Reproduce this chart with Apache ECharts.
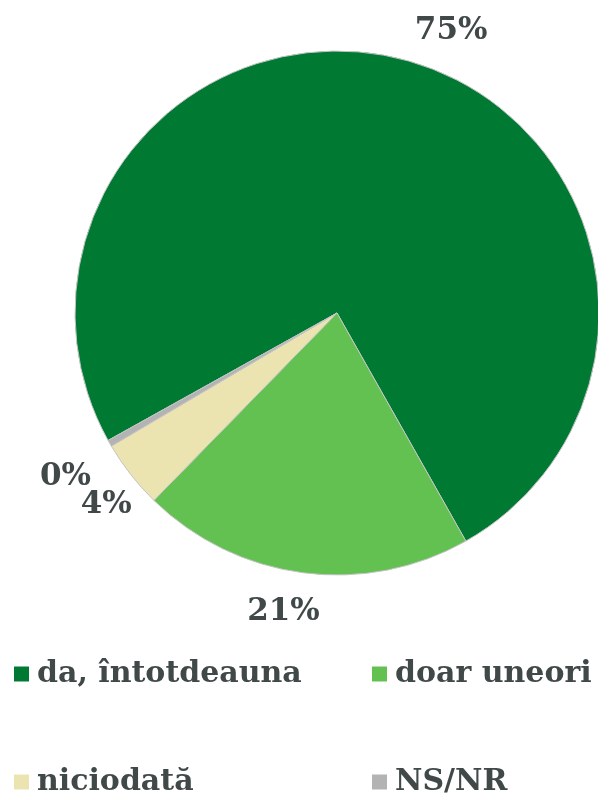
<!DOCTYPE html>
<html>
<head>
<meta charset="utf-8">
<script src="https://cdn.jsdelivr.net/npm/echarts@6/dist/echarts.min.js"></script>
<style>
html,body{margin:0;padding:0;background:#fff;}
#chart{width:598px;height:796px;}
</style>
</head>
<body>
<div id="chart"></div>
<script>
const categories = ['da, întotdeauna', 'doar uneori', 'niciodată', 'NS/NR'];
const values = [74.9, 20.5, 4.2, 0.4];
const labelTexts = ['75%', '21%', '4%', '0%'];
const colors = ['#007A33', '#63C152', '#EBE4B1', '#B3B3B3'];

const textColor = '#404848';
const fontFam = '"DejaVu Serif", "Liberation Serif", serif';

const chart = echarts.init(document.getElementById('chart'));

const legendPos = [
  {left: 9, top: 654},
  {left: 367, top: 654},
  {left: 9, top: 762},
  {left: 367, top: 762}
];
// small nudges of the outside labels (style tweak, px)
const labelNudge = [[-3, -13], [24, 21], [20, 19], [2, 25]];

const option = {
  animation: false,
  color: colors,
  legend: categories.map((c, i) => ({
    data: [c],
    left: legendPos[i].left,
    top: legendPos[i].top,
    icon: 'rect',
    itemWidth: 15,
    itemHeight: 15,
    itemStyle: {borderWidth: 0},
    textStyle: {fontFamily: fontFam, fontWeight: 'bold', fontSize: 30, color: textColor, padding: [0, 0, 0, 3]}
  })),
  series: [{
    type: 'pie',
    center: [337, 313],
    radius: 262,
    startAngle: 209.1,
    clockwise: true,
    avoidLabelOverlap: false,
    itemStyle: {borderColor: '#c4c4c4', borderWidth: 1},
    label: {
      show: true,
      position: 'outside',
      formatter: p => labelTexts[p.dataIndex],
      fontFamily: fontFam,
      fontWeight: 'bold',
      fontSize: 31,
      color: textColor
    },
    labelLine: {show: false, length: 18, length2: 0},
    labelLayout: p => ({dx: labelNudge[p.dataIndex][0], dy: labelNudge[p.dataIndex][1]}),
    emphasis: {disabled: true},
    data: categories.map((c, i) => ({name: c, value: values[i]}))
  }]
};
chart.setOption(option);
</script>
</body>
</html>
